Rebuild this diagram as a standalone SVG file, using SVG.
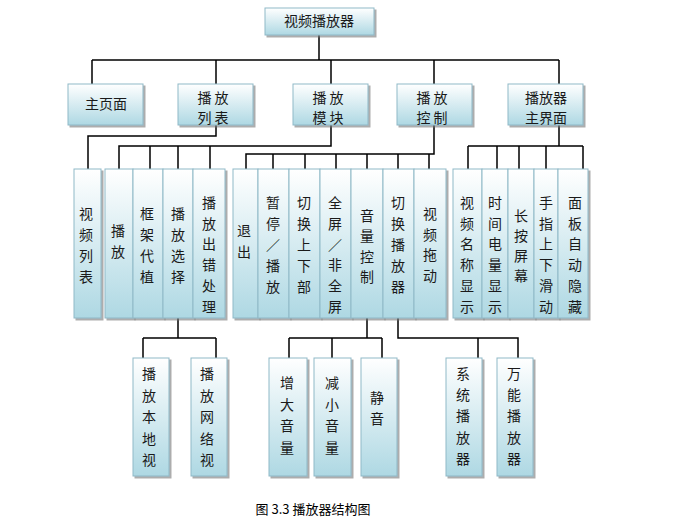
<svg xmlns="http://www.w3.org/2000/svg" width="690" height="520" viewBox="0 0 690 520">
<defs>
<linearGradient id="g" x1="0" y1="0" x2="0" y2="1">
<stop offset="0" stop-color="#ffffff"/>
<stop offset="1" stop-color="#aed8e3"/>
</linearGradient>
<filter id="sh" x="-20%" y="-20%" width="150%" height="150%">
<feDropShadow dx="2" dy="2" stdDeviation="0.6" flood-color="#777" flood-opacity="0.6"/>
</filter>
</defs>
<style>
.b{fill:url(#g);stroke:#8fb9c7;stroke-width:1;filter:url(#sh)}
.t{font-family:"Noto Sans CJK SC","DejaVu Sans",sans-serif;font-size:14px;fill:#1a1a1a;text-anchor:middle;dominant-baseline:central}
.c{fill:none;stroke:#000;stroke-width:1.5}
.cap{font-family:"Noto Sans CJK SC","DejaVu Sans",sans-serif;font-size:13px;fill:#000;text-anchor:middle;dominant-baseline:central}
</style>
<rect width="690" height="520" fill="#fff"/>
<g id="connectors" class="c">
<path d="M319,35V60M92,60H559M92,60V84M216,60V84M331,60V84M434,60V84M559,60V84"/>
<path d="M216,125V136H88V169"/>
<path d="M331,125V146H119V169M150,146V169M178,146V169M210,146V169"/>
<path d="M434,125V154H246V169M273,154V169M305,154V169M336,154V169M367,154V169M398,154V169M429,154V169"/>
<path d="M559,125V146M468,146H583M468,146V169M497,146V169M519,146V169M546,146V169M583,146V169"/>
<path d="M178,318V338M143,338H216M143,338V358M216,338V358"/>
<path d="M367,318V338M289,338H382M289,338V358M332,338V358M382,338V358"/>
<path d="M398,318V338H518V358M478,338V358"/>
</g>
<g id="n-root"><rect class="b" x="265" y="8" width="109" height="27"/><text class="t" x="319" y="20">视频播放器</text></g>
<g id="n-home"><rect class="b" x="68" y="84" width="75" height="41"/><text class="t" x="106" y="103">主页面</text></g>
<g id="n-playlist"><rect class="b" x="178" y="84" width="75" height="41"/><text class="t" x="213" y="97">播 放</text><text class="t" x="213" y="117">列 表</text></g>
<g id="n-playmod"><rect class="b" x="293" y="84" width="75" height="41"/><text class="t" x="328" y="97">播 放</text><text class="t" x="328" y="117">模 块</text></g>
<g id="n-playctl"><rect class="b" x="397" y="84" width="75" height="41"/><text class="t" x="432" y="97">播 放</text><text class="t" x="432" y="117">控 制</text></g>
<g id="n-mainui"><rect class="b" x="508" y="84" width="75" height="41"/><text class="t" x="546" y="97">播放器</text><text class="t" x="546" y="117">主界面</text></g>

<g id="n-videolist"><rect class="b" x="74" y="169" width="27" height="149"/><text class="t"><tspan x="86" y="213">视</tspan><tspan x="86" dy="21">频</tspan><tspan x="86" dy="21">列</tspan><tspan x="86" dy="21">表</tspan></text></g>
<g id="n-play"><rect class="b" x="105" y="169" width="28" height="149"/><text class="t"><tspan x="118" y="230">播</tspan><tspan x="118" dy="20.7">放</tspan></text></g>
<g id="n-frame"><rect class="b" x="133" y="169" width="30" height="149"/><text class="t"><tspan x="147" y="213">框</tspan><tspan x="147" dy="21">架</tspan><tspan x="147" dy="21">代</tspan><tspan x="147" dy="21">植</tspan></text></g>
<g id="n-select"><rect class="b" x="163" y="169" width="30" height="149"/><text class="t"><tspan x="178" y="213">播</tspan><tspan x="178" dy="21">放</tspan><tspan x="178" dy="21">选</tspan><tspan x="178" dy="21">择</tspan></text></g>
<g id="n-error"><rect class="b" x="193" y="169" width="32" height="149"/><text class="t"><tspan x="209" y="202">播</tspan><tspan x="209" dy="20.7">放</tspan><tspan x="209" dy="20.7">出</tspan><tspan x="209" dy="20.7">错</tspan><tspan x="209" dy="20.7">处</tspan><tspan x="209" dy="20.7">理</tspan></text></g>
<g id="n-exit"><rect class="b" x="233" y="169" width="25" height="149"/><text class="t"><tspan x="244" y="230">退</tspan><tspan x="244" dy="20.7">出</tspan></text></g>
<g id="n-pause"><rect class="b" x="258" y="169" width="31" height="149"/><text class="t"><tspan x="273" y="202">暂</tspan><tspan x="273" dy="21">停</tspan><tspan x="273" dy="21">／</tspan><tspan x="273" dy="21">播</tspan><tspan x="273" dy="21">放</tspan></text></g>
<g id="n-switchpart"><rect class="b" x="289" y="169" width="31" height="149"/><text class="t"><tspan x="304" y="202">切</tspan><tspan x="304" dy="21">换</tspan><tspan x="304" dy="21">上</tspan><tspan x="304" dy="21">下</tspan><tspan x="304" dy="21">部</tspan></text></g>
<g id="n-fullscreen"><rect class="b" x="320" y="169" width="31" height="149"/><text class="t"><tspan x="335" y="202">全</tspan><tspan x="335" dy="20.8">屏</tspan><tspan x="335" dy="20.8">／</tspan><tspan x="335" dy="20.8">非</tspan><tspan x="335" dy="20.8">全</tspan><tspan x="335" dy="20.8">屏</tspan></text></g>
<g id="n-volume"><rect class="b" x="351" y="169" width="32" height="149"/><text class="t"><tspan x="367" y="215">音</tspan><tspan x="367" dy="20.3">量</tspan><tspan x="367" dy="20.3">控</tspan><tspan x="367" dy="20.3">制</tspan></text></g>
<g id="n-switchplayer"><rect class="b" x="383" y="169" width="31" height="149"/><text class="t"><tspan x="398" y="202">切</tspan><tspan x="398" dy="21">换</tspan><tspan x="398" dy="21">播</tspan><tspan x="398" dy="21">放</tspan><tspan x="398" dy="21">器</tspan></text></g>
<g id="n-drag"><rect class="b" x="414" y="169" width="32" height="149"/><text class="t"><tspan x="430" y="213">视</tspan><tspan x="430" dy="20.7">频</tspan><tspan x="430" dy="20.7">拖</tspan><tspan x="430" dy="20.7">动</tspan></text></g>
<g id="n-name"><rect class="b" x="453" y="169" width="29" height="149"/><text class="t"><tspan x="467" y="202">视</tspan><tspan x="467" dy="20.7">频</tspan><tspan x="467" dy="20.7">名</tspan><tspan x="467" dy="20.7">称</tspan><tspan x="467" dy="20.7">显</tspan><tspan x="467" dy="20.7">示</tspan></text></g>
<g id="n-time"><rect class="b" x="482" y="169" width="26" height="149"/><text class="t"><tspan x="495" y="202">时</tspan><tspan x="495" dy="20.7">间</tspan><tspan x="495" dy="20.7">电</tspan><tspan x="495" dy="20.7">量</tspan><tspan x="495" dy="20.7">显</tspan><tspan x="495" dy="20.7">示</tspan></text></g>
<g id="n-longpress"><rect class="b" x="508" y="169" width="26" height="149"/><text class="t"><tspan x="521" y="215">长</tspan><tspan x="521" dy="20">按</tspan><tspan x="521" dy="20">屏</tspan><tspan x="521" dy="20">幕</tspan></text></g>
<g id="n-swipe"><rect class="b" x="534" y="169" width="24" height="149"/><text class="t"><tspan x="546" y="202">手</tspan><tspan x="546" dy="20.7">指</tspan><tspan x="546" dy="20.7">上</tspan><tspan x="546" dy="20.7">下</tspan><tspan x="546" dy="20.7">滑</tspan><tspan x="546" dy="20.7">动</tspan></text></g>
<g id="n-autohide"><rect class="b" x="558" y="169" width="30" height="149"/><text class="t"><tspan x="575" y="202">面</tspan><tspan x="575" dy="20.7">板</tspan><tspan x="575" dy="20.7">自</tspan><tspan x="575" dy="20.7">动</tspan><tspan x="575" dy="20.7">隐</tspan><tspan x="575" dy="20.7">藏</tspan></text></g>

<g id="n-local"><rect class="b" x="133" y="358" width="36" height="118"/><text class="t"><tspan x="149" y="373">播</tspan><tspan x="149" dy="21.5">放</tspan><tspan x="149" dy="21.5">本</tspan><tspan x="149" dy="21.5">地</tspan><tspan x="149" dy="21.5">视</tspan></text></g>
<g id="n-net"><rect class="b" x="191" y="358" width="36" height="118"/><text class="t"><tspan x="207" y="373">播</tspan><tspan x="207" dy="21.5">放</tspan><tspan x="207" dy="21.5">网</tspan><tspan x="207" dy="21.5">络</tspan><tspan x="207" dy="21.5">视</tspan></text></g>
<g id="n-volup"><rect class="b" x="269" y="358" width="38" height="118"/><text class="t"><tspan x="287" y="382">增</tspan><tspan x="287" dy="21.7">大</tspan><tspan x="287" dy="21.7">音</tspan><tspan x="287" dy="21.7">量</tspan></text></g>
<g id="n-voldown"><rect class="b" x="314" y="358" width="37" height="118"/><text class="t"><tspan x="332" y="382">减</tspan><tspan x="332" dy="21.7">小</tspan><tspan x="332" dy="21.7">音</tspan><tspan x="332" dy="21.7">量</tspan></text></g>
<g id="n-mute"><rect class="b" x="361" y="358" width="36" height="118"/><text class="t"><tspan x="377" y="397">静</tspan><tspan x="377" dy="21">音</tspan></text></g>
<g id="n-sysplayer"><rect class="b" x="446" y="358" width="36" height="118"/><text class="t"><tspan x="463" y="373">系</tspan><tspan x="463" dy="21.2">统</tspan><tspan x="463" dy="21.2">播</tspan><tspan x="463" dy="21.2">放</tspan><tspan x="463" dy="21.2">器</tspan></text></g>
<g id="n-uniplayer"><rect class="b" x="497" y="358" width="36" height="118"/><text class="t"><tspan x="514" y="373">万</tspan><tspan x="514" dy="21.2">能</tspan><tspan x="514" dy="21.2">播</tspan><tspan x="514" dy="21.2">放</tspan><tspan x="514" dy="21.2">器</tspan></text></g>

<text class="cap" x="313" y="508">图 3.3 播放器结构图</text>
</svg>
